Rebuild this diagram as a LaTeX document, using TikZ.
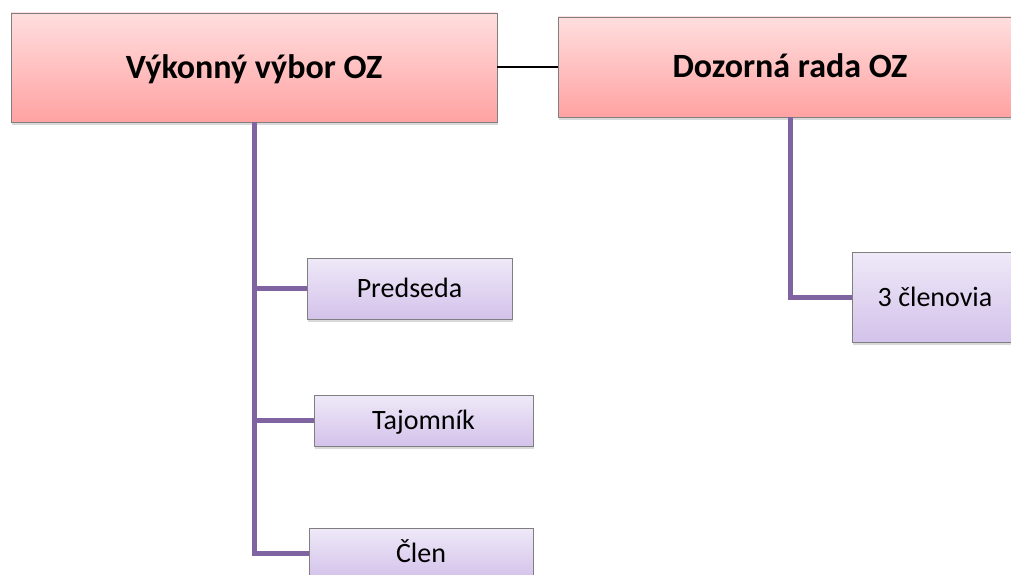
\documentclass[tikz,border=0pt]{standalone}
\usepackage{fontspec}
\setmainfont{Carlito}
\usetikzlibrary{shadows}
\definecolor{redtop}{HTML}{FFDEDE}
\definecolor{redbot}{HTML}{FFA2A2}
\definecolor{purtop}{HTML}{EFE9F8}
\definecolor{purbot}{HTML}{D3C2EA}
\definecolor{trunk}{HTML}{8064A2}
\definecolor{boxline}{HTML}{7F7F7F}
\begin{document}
\begin{tikzpicture}[x=1pt,y=-1pt,
  basebox/.style={draw=boxline, line width=0.9pt, inner sep=0pt, text depth=0pt,
    drop shadow={opacity=0.3, shadow xshift=1pt, shadow yshift=-3pt}},
  redbox/.style={basebox, top color=redtop, bottom color=redbot, text height=22pt,
    font=\fontsize{34}{40}\selectfont\bfseries},
  purbox/.style={basebox, top color=purtop, bottom color=purbot, text height=18pt,
    font=\fontsize{28}{34}\selectfont},
  tree/.style={draw=trunk, line width=5pt, line join=miter},
  link/.style={draw=black, line width=1.3pt}]
\useasboundingbox (0,0) rectangle (1011,575);
\clip (0,0) rectangle (1011,575);
\node[redbox, minimum width=486pt, minimum height=109pt] (vv) at (254,67.5) {Výkonný výbor OZ};
\node[redbox, minimum width=464pt, minimum height=100pt] (dr) at (790,67) {Dozorná rada OZ};
\node[purbox, minimum width=205pt, minimum height=61pt] (pr) at (409.5,288.5) {Predseda};
\node[purbox, minimum width=219pt, minimum height=51pt] (ta) at (423.5,420.5) {Tajomník};
\node[purbox, minimum width=224pt, minimum height=50pt] (cl) at (421,553) {Člen};
\node[purbox, minimum width=166pt, minimum height=90pt] (cv) at (935,297) {3 členovia};
\draw[link] (dr.west) -- (dr.west -| vv.east);
\draw[tree] (vv.south) -- (vv.south |- cl.west) -- (cl.west);
\draw[tree] (vv.south |- pr.west) -- (pr.west);
\draw[tree] (vv.south |- ta.west) -- (ta.west);
\draw[tree] (dr.south) -- (dr.south |- cv.west) -- (cv.west);
\end{tikzpicture}
\end{document}
